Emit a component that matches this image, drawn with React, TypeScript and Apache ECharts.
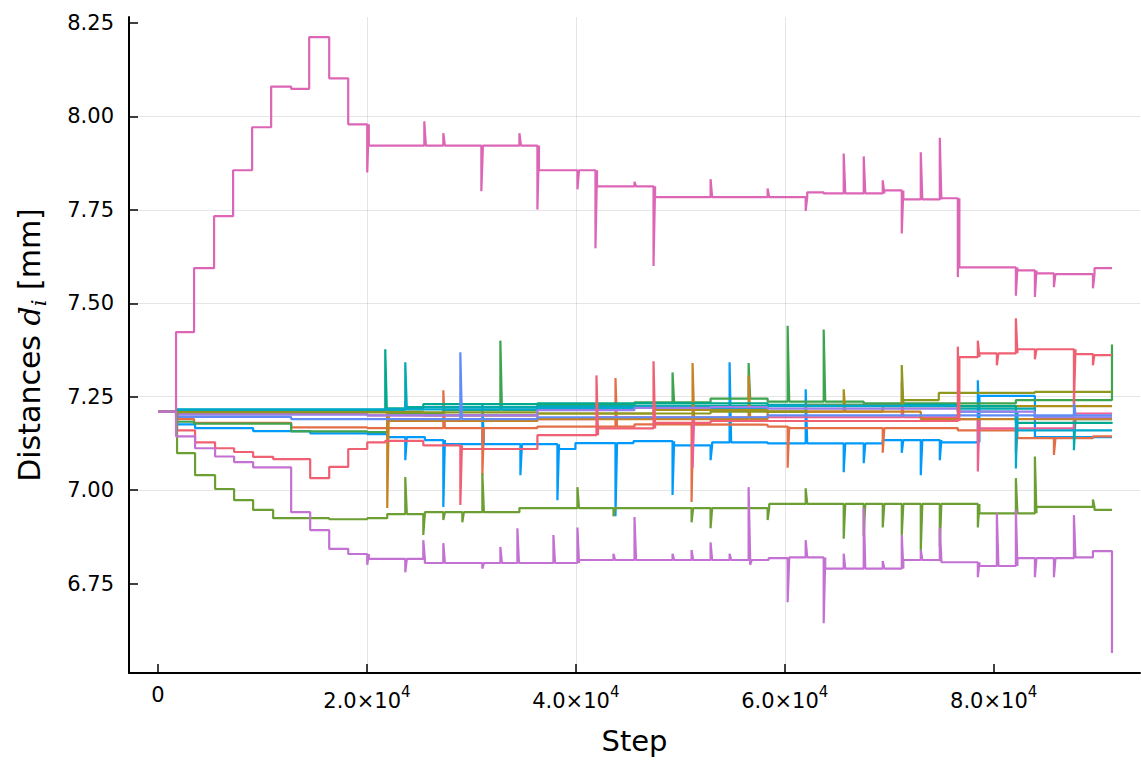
import React, { useEffect, useRef } from "react";
import * as echarts from "echarts";

// ---------- axes ----------
const X_TICKS = [0, 20000, 40000, 60000, 80000];
const Y_TICKS = [6.75, 7.0, 7.25, 7.5, 7.75, 8.0, 8.25];
const X_MIN = -2780;
const X_MAX = 94010;
const Y_MIN = 6.5106;
const Y_MAX = 8.2661;
const SPIKE_W = 150; // width of a one-sample spike, in steps

// Plots.jl default palette, one colour per series
const COLORS = [
  "#009AFA", "#E36F47", "#3EA44E", "#C371D2", "#AC8E18", "#00AAAE", "#ED5E93", "#C68225",
  "#00A98D", "#8E971E", "#00A8CB", "#9B7FE9", "#618CF6", "#F06073", "#DD65B6", "#6C9F33",
];

// ---------- data ----------
// [step, distance]      -> new level from this step on
// [step, distance, 1]   -> one-sample spike, then back to the level
const d01 = [[0,7.21],[1820,7.176],[3546,7.166],[9104,7.158],[14566,7.152],[20028,7.150],[21945,7.142],[23670,7.08,1],[25545,7.134],[27312,6.955,1],[27462,7.123],[31049,7.233,1],[34691,7.04,1],[38236,6.973,1],[38386,7.11],[39961,7.126],[43794,6.93,1],[45519,7.131],[49257,6.987,1],[49407,7.12],[52898,7.08,1],[53048,7.128],[54718,7.342,1],[58360,7.125],[62002,7.27,1],[65643,7.048,1],[67560,7.072,1],[69381,7.134],[71202,7.10,1],[73022,7.04,1],[74843,7.08,1],[74993,7.128],[78485,7.294,1],[78635,7.252],[83947,7.142],[91326,7.142]];
const d02 = [[0,7.21],[1725,7.19],[3450,7.18],[12745,7.168],[20028,7.166],[27312,7.267,1],[31049,7.04,1],[36320,7.17],[43794,7.30,1],[45615,7.176],[51078,6.968,1],[51228,7.175],[58360,7.17],[60277,7.06,1],[60427,7.166],[69381,7.10,1],[76568,7.16],[82126,7.10,1],[82276,7.139],[85768,7.094,1],[89505,7.144],[91326,7.144]];
const d03 = [[0,7.21],[1725,7.183],[3450,7.178],[12745,7.157],[20028,7.155],[21945,7.205],[27312,7.215],[32774,7.40,1],[36320,7.228],[45615,7.235],[49257,7.315,1],[52898,7.245],[56540,7.34,1],[58360,7.237],[60277,7.44,1],[63727,7.43,1],[67560,7.232],[82126,7.241],[91326,7.39]];
const d04 = [[0,7.21],[1725,7.144],[3546,7.112],[5462,7.090],[7283,7.075],[9104,7.061],[12745,6.941],[14566,6.893],[16387,6.843],[18208,6.829],[20028,6.80,1],[20178,6.816],[23670,6.78,1],[25395,6.866,1],[25545,6.805],[27312,6.858,1],[31049,6.79,1],[32774,6.848,1],[34403,6.898,1],[37853,6.88,1],[40153,6.90,1],[40303,6.813],[43603,6.83,1],[45615,6.928,1],[49257,6.83,1],[51078,6.84,1],[52898,6.86,1],[54718,6.83,1],[56540,7.008,1],[56690,6.80,1],[58456,6.818],[60277,6.70,1],[60427,6.82],[62002,6.866,1],[63727,6.644,1],[63877,6.79],[65643,6.83,1],[67560,6.952,1],[69381,6.81,1],[71202,6.88,1],[71352,6.813],[73022,6.84,1],[74843,6.90,1],[74993,6.807],[78485,6.767,1],[78635,6.797],[80306,6.938,1],[82126,6.947,1],[82276,6.818],[83947,6.767,1],[85768,6.767,1],[87684,6.933,1],[87834,6.82],[89505,6.837],[91326,6.564]];
const d05 = [[0,7.21],[1725,7.212],[20028,7.21],[25395,7.2],[36320,7.205],[47436,7.215],[58360,7.21],[65643,7.27,1],[69381,7.225],[91326,7.225]];
const d06 = [[0,7.21],[1725,7.215],[23670,7.342,1],[23820,7.222],[36320,7.225],[76568,7.218],[83947,7.195],[87684,7.107,1],[87834,7.19],[91326,7.19]];
const d07 = [[0,7.21],[1725,7.205],[20028,7.2],[36320,7.19],[41974,7.195],[51174,7.06,1],[52898,7.195],[71202,7.29,1],[76568,7.19],[78485,7.05,1],[78635,7.165],[87684,7.205],[91326,7.205]];
const d08 = [[0,7.21],[1820,7.212],[21945,6.952,1],[22095,7.185],[36320,7.19],[51174,7.34,1],[56540,7.307,1],[58360,7.21],[73022,7.19],[91326,7.19]];
const d09 = [[0,7.21],[1820,7.214],[21753,7.377,1],[21903,7.219],[25395,7.23],[36320,7.232],[58360,7.228],[76568,7.225],[82126,7.18],[91326,7.178]];
const d10 = [[0,7.21],[1725,7.208],[36320,7.205],[52898,7.21],[62002,7.228],[71202,7.335,1],[71352,7.241],[74747,7.26],[83947,7.263],[91326,7.263]];
const d11 = [[0,7.21],[1725,7.216],[23670,7.24,1],[36320,7.22],[58360,7.226],[76568,7.21],[82126,7.058,1],[82276,7.16],[91326,7.16]];
const d12 = [[0,7.21],[1725,7.202],[20028,7.2],[36320,7.214],[45615,7.22],[52898,7.222],[58360,7.218],[76568,7.21],[83947,7.195],[91326,7.195]];
const d13 = [[0,7.21],[1725,7.196],[12745,7.19],[28941,7.369,1],[36320,7.195],[58360,7.2],[87684,7.24,1],[91326,7.2]];
const d14 = [[0,7.21],[1820,7.160],[3546,7.128],[5462,7.112],[7283,7.102],[9104,7.089],[11020,7.083],[14566,7.032],[16387,7.062],[18208,7.110],[20028,7.128],[21753,7.132],[25395,7.12],[28941,6.96,1],[29091,7.11],[36320,7.147],[41974,7.307,1],[42124,7.165],[47436,7.345,1],[47586,7.18],[52898,7.185],[76568,7.384,1],[76718,7.356],[78485,7.40,1],[78635,7.366],[80306,7.334,1],[82126,7.46,1],[82276,7.377],[83947,7.35,1],[87684,7.23,1],[87834,7.364],[89505,7.334,1],[89655,7.361],[91326,7.361]];
const d15 = [[0,7.21],[1725,7.423],[3450,7.594],[5366,7.733],[7187,7.856],[9008,7.971],[10829,8.080],[12745,8.074],[14470,8.212],[16387,8.102],[18208,7.979],[20028,7.85,1],[20178,7.922],[25491,7.987,1],[27312,7.955,1],[30953,7.80,1],[34595,7.955,1],[36320,7.751,1],[36470,7.856],[40153,7.805,1],[41878,7.647,1],[42028,7.813],[45615,7.825,1],[47436,7.60,1],[47586,7.784],[52898,7.832,1],[58360,7.807,1],[62002,7.747,1],[62152,7.797],[63727,7.794],[65643,7.901,1],[67560,7.893,1],[69381,7.829,1],[69531,7.802],[71202,7.687,1],[71352,7.778],[73022,7.904,1],[74843,7.943,1],[74993,7.781],[76568,7.57,1],[76718,7.596],[82126,7.52,1],[82276,7.588],[83947,7.517,1],[84097,7.580],[85768,7.543,1],[85918,7.578],[89505,7.54,1],[89655,7.594],[91326,7.594]];
const d16 = [[0,7.21],[1820,7.099],[3546,7.04],[5462,7.003],[7283,6.973],[9104,6.947],[11020,6.925],[16387,6.922],[20028,6.925],[21945,6.936],[23670,7.035,1],[25395,6.88,1],[25545,6.941],[27312,6.92,1],[29132,6.914,1],[31049,7.045,1],[34595,6.952],[40153,7.008,1],[43603,6.93,1],[51078,6.914,1],[52898,6.898,1],[58360,6.92,1],[58510,6.963],[62002,7.005,1],[65643,6.87,1],[67560,6.877,1],[69381,6.90,1],[71202,6.88,1],[73022,6.84,1],[74843,6.848,1],[78485,6.90,1],[78635,6.938],[82126,7.032,1],[83947,7.09,1],[84097,6.955],[89505,6.975,1],[89655,6.947],[91326,6.947]];

const SERIES_DATA = [d01, d02, d03, d04, d05, d06, d07, d08, d09, d10, d11, d12, d13, d14, d15, d16];

// turn level/spike records into a step polyline (data values only)
function toStepPath(pts: number[][]): number[][] {
  const out: number[][] = [];
  let level = pts[0][1];
  out.push([pts[0][0], level]);
  for (let i = 1; i < pts.length; i++) {
    const [x, y, spike] = pts[i];
    out.push([x, level]);
    out.push([x, y]);
    if (spike) {
      out.push([x + SPIKE_W, level]);
    } else {
      level = y;
    }
  }
  return out;
}

const FONT = "DejaVu Sans";

function xLabel(v: number): string {
  if (v === 0) return "0";
  return `{m|${(v / 10000).toFixed(1)}×10}{s|4}`;
}

const option: any = {
  animation: false,
  backgroundColor: "#ffffff",
  textStyle: { fontFamily: FONT },
  grid: { left: 129, right: 1, top: 17, bottom: 87, containLabel: false },
  xAxis: {
    type: "value",
    min: X_MIN,
    max: X_MAX,
    name: "Step",
    nameLocation: "middle",
    nameGap: 53,
    nameTextStyle: { fontFamily: FONT, fontSize: 29, color: "#000" },
    axisLine: { show: true, onZero: false, lineStyle: { color: "#000", width: 2 } },
    axisTick: { show: true, inside: true, length: 9, customValues: X_TICKS, lineStyle: { color: "#000", width: 1.5 } },
    axisLabel: {
      customValues: X_TICKS,
      formatter: xLabel,
      margin: 11,
      color: "#000",
      fontFamily: FONT,
      fontSize: 21,
      rich: {
        m: { fontFamily: FONT, fontSize: 21, lineHeight: 27, verticalAlign: "bottom", color: "#000" },
        s: { fontFamily: FONT, fontSize: 15, lineHeight: 15, verticalAlign: "top", color: "#000" },
      },
    },
    splitLine: { show: true, showMinLine: false, showMaxLine: false, lineStyle: { color: "rgba(0,0,0,0.1)", width: 1 } },
  },
  yAxis: {
    type: "value",
    min: Y_MIN,
    max: Y_MAX,
    name: "Distances {it|d}{sub|i} [mm]",
    nameLocation: "middle",
    nameGap: 80,
    nameRotate: 90,
    nameTextStyle: {
      fontFamily: FONT,
      fontSize: 30,
      lineHeight: 40,
      color: "#000",
      rich: {
        it: { fontFamily: "DejaVu Serif", fontStyle: "italic", fontSize: 30, color: "#000" },
        sub: { fontFamily: "DejaVu Serif", fontStyle: "italic", fontSize: 21, lineHeight: 22, verticalAlign: "bottom", color: "#000" },
      },
    },
    axisLine: { show: true, onZero: false, lineStyle: { color: "#000", width: 2 } },
    axisTick: { show: true, inside: true, length: 9, customValues: Y_TICKS, lineStyle: { color: "#000", width: 1.5 } },
    axisLabel: {
      customValues: Y_TICKS,
      formatter: (v: number) => v.toFixed(2),
      margin: 15,
      color: "#000",
      fontFamily: FONT,
      fontSize: 21,
    },
    splitLine: { show: true, showMinLine: false, showMaxLine: false, lineStyle: { color: "rgba(0,0,0,0.1)", width: 1 } },
  },
  series: SERIES_DATA.map((d, i) => ({
    name: `d${i + 1}`,
    type: "line",
    data: toStepPath(d),
    showSymbol: false,
    symbol: "none",
    silent: true,
    clip: true,
    z: i === 3 ? 3 : 2,
    color: COLORS[i],
    lineStyle: { color: COLORS[i], width: 2.2 },
  })),
};

export default function App() {
  const ref = useRef<HTMLDivElement>(null);
  useEffect(() => {
    if (!ref.current) return;
    const chart = echarts.init(ref.current, null, { renderer: "svg" });
    chart.setOption(option);
    return () => chart.dispose();
  }, []);
  return (
    <div
      ref={ref}
      style={{ position: "fixed", left: 0, top: 0, width: 1141, height: 760, background: "#fff" }}
    />
  );
}
